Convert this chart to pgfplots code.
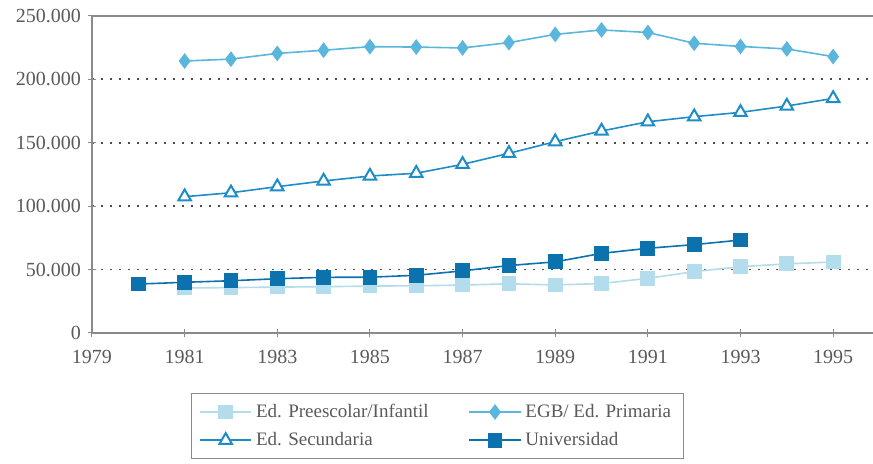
\documentclass[border=0pt]{standalone}
\usepackage{fontspec}
\setmainfont{Liberation Serif}
\usepackage{pgfplots}
\pgfplotsset{compat=1.18}
\definecolor{cpre}{HTML}{B3DCEC}
\definecolor{cprim}{HTML}{5BB6DD}
\definecolor{csec}{HTML}{1E8CC6}
\definecolor{cuni}{HTML}{0C72AE}
\definecolor{ctxt}{HTML}{5A5A5A}
\definecolor{caxis}{HTML}{8A8A8A}
\begin{document}
\begin{tikzpicture}[x=1pt,y=1pt]
\path[use as bounding box] (-46,-65.5) rectangle (390.5,166.5);
\begin{axis}[
  at={(0,0)}, anchor=south west,
  scale only axis, width=390.5pt, height=158.5pt,
  xmin=1979, xmax=1995.86, ymin=0, ymax=250000,
  axis x line*=bottom, axis y line*=left,
  axis line style={caxis, line width=0.6pt},
  xtick={1979,1981,1983,1985,1987,1989,1991,1993,1995},
  xticklabels={1979,1981,1983,1985,1987,1989,1991,1993,1995},
  ytick={0,50000,100000,150000,200000,250000},
  yticklabels={0,50.000,100.000,150.000,200.000,250.000},
  tick align=center, major tick length=4pt,
  tick style={caxis, line width=0.5pt},
  ymajorgrids,
  grid style={black!70, line width=0.9pt, dash pattern=on 0.9pt off 3.6pt},
  scaled y ticks=false,
  xticklabel style={font=\fontsize{10}{12}\selectfont, text=ctxt, yshift=-3pt},
  yticklabel style={font=\fontsize{10}{12}\selectfont, text=ctxt},
  every axis plot/.append style={line width=0.8pt},
  legend columns=2,
  legend cell align=left,
  legend style={at={(0.442,-0.19)}, anchor=north, draw=caxis, line width=0.6pt,
    font=\fontsize{9.5}{11}\selectfont, text=ctxt,
    /tikz/every even column/.append style={column sep=18pt},
    row sep=2pt, inner xsep=4pt, inner ysep=3pt},
  legend image code/.code={
    \draw[mark repeat=2,mark phase=2] plot coordinates {(0cm,0cm) (0.45cm,0cm) (0.9cm,0cm)};},
]
\draw[caxis, line width=0.6pt] (rel axis cs:0,1) -- (rel axis cs:1,1);
\addplot[cpre, mark=square*, mark size=3.3pt, mark options={cpre}] coordinates {
(1981,35500) (1982,35800) (1983,36200) (1984,36500) (1985,37000) (1986,37200) (1987,37800)
(1988,38800) (1989,37900) (1990,39000) (1991,43100) (1992,48400) (1993,52300) (1994,54500) (1995,56000)};
\addlegendentry{Ed. Preescolar/Infantil}
\addplot[cprim, mark=diamond*, mark size=3.3pt, mark options={cprim}] coordinates {
(1981,214500) (1982,216000) (1983,220500) (1984,223000) (1985,225800) (1986,225500) (1987,224800)
(1988,229000) (1989,235500) (1990,239000) (1991,237000) (1992,228500) (1993,226000) (1994,224000) (1995,218000)};
\addlegendentry{EGB/ Ed. Primaria}
\addplot[csec, mark=triangle*, mark size=3.6pt, mark options={csec, fill=white, line width=1pt}] coordinates {
(1981,107500) (1982,110600) (1983,115400) (1984,119900) (1985,123800) (1986,126000) (1987,133000)
(1988,141700) (1989,150900) (1990,159300) (1991,166600) (1992,170600) (1993,174000) (1994,179000) (1995,185000)};
\addlegendentry{Ed. Secundaria}
\addplot[cuni, mark=square*, mark size=3.3pt, mark options={cuni}] coordinates {
(1980,38600) (1981,40000) (1982,41200) (1983,42800) (1984,43900) (1985,44000) (1986,45500) (1987,49000)
(1988,53200) (1989,56100) (1990,62800) (1991,66800) (1992,69700) (1993,73300)};
\addlegendentry{Universidad}
\end{axis}
\end{tikzpicture}
\end{document}
